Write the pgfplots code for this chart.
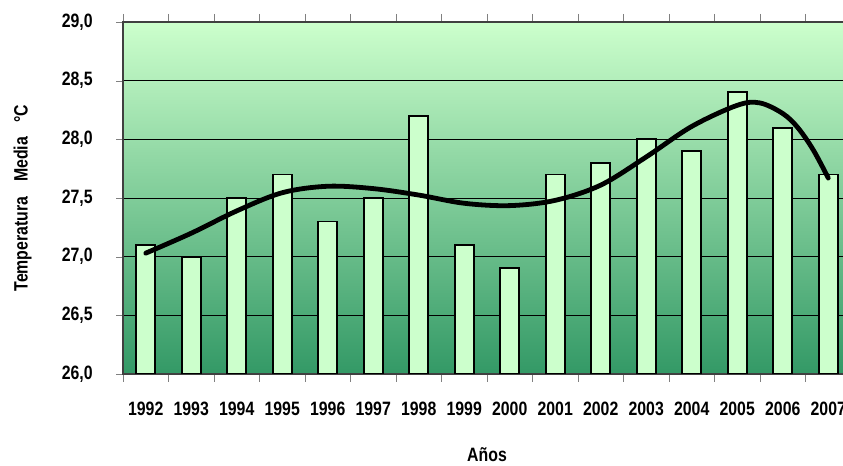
\documentclass[border=0pt]{standalone}
\usepackage{pgfplots}
\pgfplotsset{compat=1.18}
\usepackage{fontspec}
\setmainfont{Liberation Sans}[FakeStretch=0.82]

\definecolor{barfill}{RGB}{204,255,204}
\definecolor{bgtop}{RGB}{204,255,204}
\definecolor{bgbot}{RGB}{51,153,102}

\begin{document}
\begin{tikzpicture}
\begin{axis}[
    at={(92.25pt,69pt)}, anchor=south west,
    scale only axis,
    width=546pt, height=264pt,
    xmin=-0.5, xmax=15.5,
    ymin=26, ymax=29,
    xtick={0,...,15},
    xticklabels={1992,1993,1994,1995,1996,1997,1998,1999,2000,2001,2002,2003,2004,2005,2006,2007},
    minor xtick={-0.5,0.5,...,15.5},
    major x tick style={draw=none},
    ytick={26,26.5,...,29},
    tick align=outside,
    major tick length=5.25pt,
    minor tick length=6pt,
    ymajorgrids=true,
    grid style={black, line width=0.6pt},
    axis line style={black!75, line width=1pt},
    axis background/.style={top color=bgtop, bottom color=bgbot},
    /pgf/number format/.cd, use comma, fixed, fixed zerofill, precision=1, assume math mode=true,
    /pgfplots/.cd,
    ticklabel style={font=\bfseries\fontsize{14.5}{16}\selectfont},
    yticklabel style={xshift=-14pt},
    xticklabel style={yshift=-12.5pt},
    xlabel={Años},
    ylabel={Temperatura\hspace{11pt}Media\hspace{11pt}°C},
    label style={font=\bfseries\fontsize{14.5}{16}\selectfont},
    xlabel style={at={(axis description cs:0.5,-0.23)}, anchor=center},
    ylabel style={at={(axis description cs:-0.138,0.5)}, anchor=center, rotate=0},
]
\addplot[ybar, bar width=14.25pt, bar shift=0pt, fill=barfill, draw=black, line width=1.4pt]
    coordinates {(0,27.1) (1,27.0) (2,27.5) (3,27.7) (4,27.3) (5,27.5) (6,28.2) (7,27.1)
                 (8,26.9) (9,27.7) (10,27.8) (11,28.0) (12,27.9) (13,28.4) (14,28.1) (15,27.7)};
% trend line
\addplot[smooth, tension=0.55, black, line width=3.6pt, line cap=round]
    coordinates {(0,27.03) (1,27.20) (2,27.39) (3,27.545) (4,27.60) (5,27.58) (6,27.525)
                 (7,27.455) (8,27.435) (9,27.48) (10,27.61) (11,27.85) (12,28.11) (13,28.29)
                 (13.5,28.31) (14,28.22) (14.33,28.10) (14.67,27.91) (15,27.67)};
\end{axis}
\pgfresetboundingbox
\useasboundingbox (0,0) rectangle (632.25pt,349.5pt);
\end{tikzpicture}
\end{document}
